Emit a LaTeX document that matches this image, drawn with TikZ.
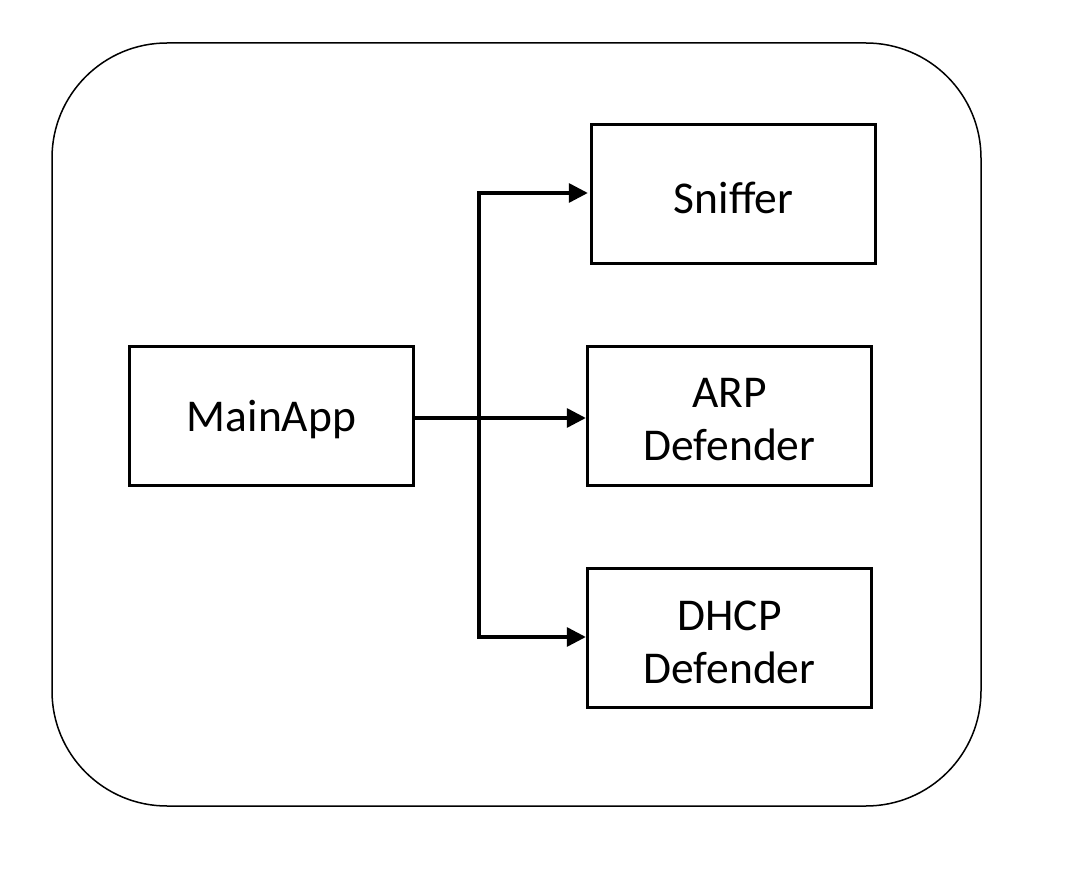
\documentclass[tikz,border=0pt]{standalone}
\usepackage{fontspec}
\setmainfont{Carlito}
\usetikzlibrary{arrows.meta}
\begin{document}
\begin{tikzpicture}[x=1pt,y=-1pt,
  comp/.style={draw=black,line width=3.4pt,minimum width=284pt,minimum height=139pt,inner sep=0pt,
    label={[font=\fontsize{45.5}{53}\selectfont,align=center,yshift=-4pt]center:#1}},
  arr/.style={line width=3.3pt,-{Triangle[length=19pt,width=19pt]}},
  frame/.style={draw=black,line width=1.5pt,rounded corners=115pt}]
\useasboundingbox (0,0) rectangle (1072,874);
\draw[frame] (52,43) rectangle (981,806);
\node[comp={MainApp}] (main) at (271.5,416) {};
\node[comp={Sniffer}] (sniffer) at (733.5,194) {};
\node[comp={ARP\\Defender}] (arp) at (729.5,416) {};
\node[comp={DHCP\\Defender}] (dhcp) at (729.5,638) {};
\coordinate (br) at (479,418);
\draw[arr] (main.east |- br) -- (arp.west |- br);
\draw[arr,shorten >=2pt] (br) |- ([yshift=1pt]sniffer.west);
\draw[arr] (br) |- ([yshift=1pt]dhcp.west);
\end{tikzpicture}
\end{document}
